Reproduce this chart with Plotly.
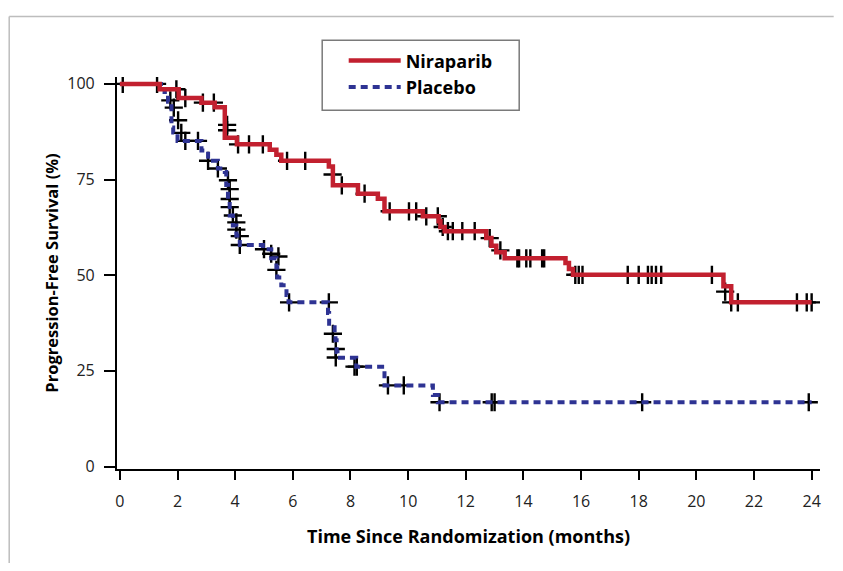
import plotly.graph_objects as go

# Kaplan-Meier step data (months, % progression-free)
nira_t = [0, 1.38, 2.04, 2.83, 3.29, 3.64, 4.06, 5.20, 5.43, 5.60, 7.25, 7.39, 8.26, 8.95, 9.18,
          10.51, 11.06, 11.12, 11.27, 12.71, 12.89, 13.06, 13.35, 15.46, 15.58, 15.72, 20.94,
          21.21, 24.0]
nira_s = [100, 98.6, 96.3, 95.1, 93.9, 85.9, 84.2, 82.8, 81.5, 79.9, 78.4, 73.5, 71.3, 70.0, 66.7,
          65.4, 64.1, 62.6, 61.5, 59.7, 57.7, 56.0, 54.4, 53.2, 51.6, 50.1, 47.1,
          42.9, 42.9]

plac_t = [0, 1.55, 1.67, 1.79, 1.85, 2.00, 2.83, 3.06, 3.40, 3.64, 3.69, 3.75, 3.81, 3.92, 4.04,
          4.16, 4.96, 5.25, 5.43, 5.46, 5.60, 5.78, 5.85, 7.22, 7.26, 7.45, 7.48, 7.52, 7.55,
          8.20, 9.18, 10.86, 11.03, 24.0]
plac_s = [100, 97.9, 95.3, 88.6, 87.3, 85.1, 82.6, 79.9, 77.9, 77.0, 73.6, 69.7, 65.6, 63.0, 60.4,
          57.9, 56.8, 54.4, 52.0, 49.4, 47.4, 44.8, 42.9, 40.1, 37.3, 35.1, 33.0, 29.9, 28.4,
          26.1, 21.2, 18.7, 16.8, 16.8]

# Censoring marks
nira_cens_t = [0.10, 1.29, 1.96, 2.27, 2.88, 3.26, 3.72, 3.72, 4.10, 4.48, 4.96, 5.80, 6.43, 7.38,
               7.70, 8.49, 9.36, 10.03, 10.28, 10.63, 11.03, 11.20, 11.38, 11.55, 11.88, 12.31,
               12.83, 13.20, 13.79, 13.85, 14.10, 14.24, 14.65, 14.72, 15.80, 15.92, 16.05, 17.62,
               18.00, 18.32, 18.45, 18.60, 18.78, 20.54, 21.00, 21.21, 21.44, 23.49, 23.83, 24.0]
nira_cens_s = [100, 100, 98.6, 96.3, 95.1, 95.1, 89.3, 87.9, 84.2, 84.2, 84.2, 79.9, 79.9, 76.3,
               73.5, 71.3, 66.7, 66.7, 66.7, 65.4, 65.4, 62.6, 61.5, 61.5, 61.5, 61.5,
               59.7, 56.5, 54.4, 54.4, 54.4, 54.4, 54.4, 54.4, 50.1, 50.1, 50.1, 50.1,
               50.1, 50.1, 50.1, 50.1, 50.1, 50.1, 45.7, 42.9, 42.9, 42.9, 42.9, 42.9]

plac_cens_t = [1.75, 1.87, 2.02, 2.13, 2.27, 2.71, 3.06, 3.40, 3.75, 3.81, 3.81, 3.81, 3.92, 4.04,
               4.04, 4.16, 4.16, 5.00, 5.25, 5.50, 5.43, 5.87, 7.25, 7.39, 7.49, 7.49, 8.14, 8.22,
               9.30, 9.85, 11.09, 12.90, 13.00, 18.12, 23.90]
plac_cens_s = [95.7, 93.8, 90.5, 87.2, 85.1, 85.1, 79.9, 77.9, 74.8, 72.5, 69.9, 67.8, 65.6, 63.8,
               61.9, 60.2, 57.9, 56.8, 55.6, 54.9, 51.4, 42.9, 42.9, 34.7, 30.7, 28.5, 26.1, 26.1,
               21.2, 21.2, 16.8, 16.8, 16.8, 16.8, 16.8]

x_ticks = [0, 2, 4, 6, 8, 10, 12, 14, 16, 18, 20, 22, 24]
y_ticks = [0, 25, 50, 75, 100]

RED = "#C2202F"
BLUE = "#2E3393"
FONT = "Open Sans"

fig = go.Figure()

mk = dict(symbol="cross-thin", size=13, line=dict(color="black", width=2.4))
fig.add_trace(go.Scatter(x=plac_cens_t, y=plac_cens_s, mode="markers", marker=mk,
                         showlegend=False, hoverinfo="skip"))
fig.add_trace(go.Scatter(x=nira_cens_t, y=nira_cens_s, mode="markers", marker=mk,
                         showlegend=False, hoverinfo="skip"))

fig.add_trace(go.Scatter(x=plac_t, y=plac_s, mode="lines", name="Placebo",
                         line=dict(shape="hv", color=BLUE, width=4, dash="7px,5px"),
                         legendrank=2))
fig.add_trace(go.Scatter(x=nira_t, y=nira_s, mode="lines", name="Niraparib",
                         line=dict(shape="hv", color=RED, width=4.5),
                         legendrank=1))

# page has an 8px body margin: keep the figure inside the window
OFF = 8
W, H = 843 - 2 * OFF, 555
L = 117.3 - OFF
T = 76.7 - OFF
R = (W + OFF) - 820.3
B = (H + OFF) - 469.5
pw, ph = W - L - R, H - T - B


def px_x(p):
    return (p - OFF - L) / pw


def px_y(p):
    return (H - B - (p - OFF)) / ph


frame = dict(color="#bdbdbd", width=1.5)

fig.update_layout(
    width=W, height=H,
    margin=dict(l=L, r=R, t=T, b=B, pad=0),
    paper_bgcolor="white", plot_bgcolor="white",
    font=dict(family=FONT, color="#1a1a1a"),
    showlegend=True,
    legend=dict(
        x=px_x(344), y=px_y(42), xanchor="left", yanchor="top",
        bgcolor="rgba(0,0,0,0)", borderwidth=0,
        font=dict(family=FONT, size=18, color="black", weight="bold"),
        itemwidth=52, traceorder="normal",
    ),
    xaxis=dict(
        range=[-0.1, 24.29], tickvals=x_ticks, ticks="outside", ticklen=9, tickwidth=2,
        tickcolor="black", showline=True, linecolor="black", linewidth=2.2,
        showgrid=False, zeroline=False, ticklabelstandoff=8,
        tickfont=dict(size=16, color="#222"),
        title=dict(text="Time Since Randomization (months)", standoff=19,
                   font=dict(size=18, color="black", weight="bold")),
    ),
    yaxis=dict(
        range=[-0.65, 101.8], tickvals=y_ticks, ticks="outside", ticklen=11, tickwidth=2,
        tickcolor="black", showline=True, linecolor="black", linewidth=2.2,
        showgrid=False, zeroline=False, ticklabelstandoff=6,
        tickfont=dict(size=16, color="#222"),
        title=dict(text="Progression-Free Survival (%)", standoff=4,
                   font=dict(size=16.5, color="black", weight="bold")),
    ),
    shapes=[
        dict(type="line", xref="paper", yref="paper",
             x0=px_x(9.5), x1=px_x(834), y0=px_y(16), y1=px_y(16), line=frame, layer="below"),
        dict(type="line", xref="paper", yref="paper",
             x0=px_x(9.5), x1=px_x(9.5), y0=px_y(16), y1=px_y(571), line=frame, layer="below"),
        dict(type="rect", xref="paper", yref="paper",
             x0=px_x(322.5), x1=px_x(519.5), y0=px_y(110), y1=px_y(40),
             line=dict(color="#7a7a7a", width=1.5), fillcolor="white", layer="below"),
    ],
)

fig.write_html("out.html", config={"displayModeBar": False})
